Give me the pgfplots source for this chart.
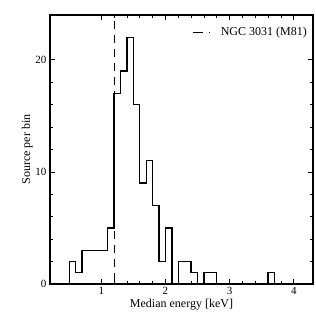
\documentclass[border=0pt]{standalone}
\usepackage{fontspec}
\setmainfont{Liberation Serif}
\usepackage{pgfplots}
\pgfplotsset{compat=1.18}
\begin{document}
\begin{tikzpicture}
\begin{axis}[
  scale only axis,
  width=263pt, height=269pt,
  xmin=0.2, xmax=4.3, ymin=0, ymax=24,
  xtick={1,2,3,4}, ytick={0,10,20},
  minor x tick num=4, minor y tick num=4,
  tick align=inside, tick pos=both,
  major tick length=5pt, minor tick length=3pt,
  axis line style={line width=1.1pt},
  every tick/.style={line width=0.7pt, black},
  /pgf/number format/assume math mode=true,
  tick label style={font=\fontsize{11}{13}\selectfont},
  label style={font=\fontsize{12}{14}\selectfont},
  xlabel={Median energy [keV]},
  ylabel={Source per bin},
  xlabel style={yshift=3pt},
  ylabel style={yshift=-4pt},
  legend style={draw=none, fill=none, at={(1,1)}, anchor=north east, xshift=-3pt, yshift=-9pt, inner sep=1pt, font=\fontsize{12}{14}\selectfont,
    /tikz/every even column/.append style={column sep=0pt}},
  legend cell align=left,
  legend image code/.code={\draw[#1] (0pt,0pt) -- (17pt,0pt);},
]
\addplot[black, dash pattern=on 8pt off 6pt, dash phase=8pt, line width=0.8pt, forget plot] coordinates {(1.2,24) (1.2,0)};
\addlegendimage{black, dash pattern=on 10pt off 6pt, line width=0.8pt}
\addlegendentry{\hspace{8pt}NGC 3031 (M81)}
\addplot[const plot mark left, black, line width=1.3pt, forget plot] coordinates {
(0.5,0) (0.5,2) (0.6,1) (0.7,3) (0.8,3) (0.9,3) (1.0,3) (1.1,5) (1.2,17) (1.3,19) (1.4,22)
(1.5,16) (1.6,9) (1.7,11) (1.8,7) (1.9,2) (2.0,5) (2.1,0) (2.2,2) (2.3,2) (2.4,1) (2.5,0)
(2.6,1) (2.7,1) (2.8,0) (3.6,0) (3.6,1) (3.7,0)
};
\end{axis}
\path ([shift={(-50pt,-32pt)}]current axis.south west) rectangle ([shift={(3pt,15pt)}]current axis.north east);
\end{tikzpicture}
\end{document}
